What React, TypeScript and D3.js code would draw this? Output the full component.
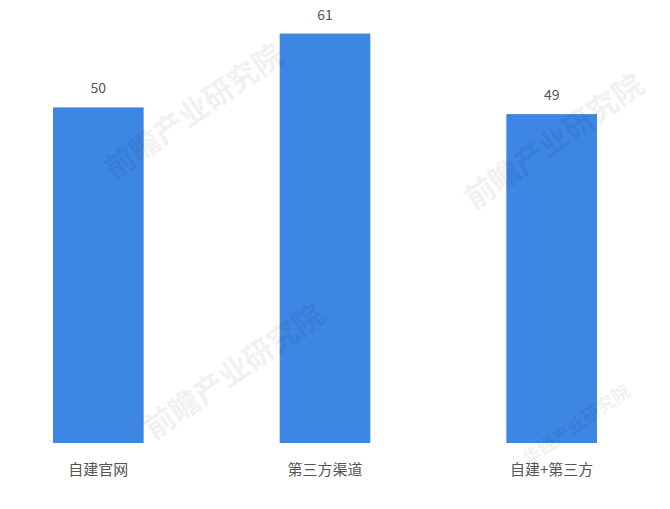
import React, { useRef, useEffect } from "react";
import * as d3 from "d3";

const categories = ["自建官网", "第三方渠道", "自建+第三方"];
const values = [50, 61, 49];

const W = 670;
const H = 509;
const barColor = "#3d86e3";
const textColor = "#555";
const font = "'Noto Sans CJK SC', 'Noto Sans', sans-serif";

const App: React.FC = () => {
  const svgRef = useRef<SVGSVGElement>(null);

  useEffect(() => {
    if (!svgRef.current) return;
    const svg = d3.select(svgRef.current);
    svg.selectAll("*").remove();

    svg.append("rect").attr("width", W).attr("height", H).attr("fill", "#fff");

    const x = d3
      .scaleBand<string>()
      .domain(categories)
      .range([-15, 665])
      .paddingInner(0.6)
      .paddingOuter(0.3);

    const y = d3.scaleLinear().domain([0, 66]).range([443, 0]);

    const g = svg.append("g");

    g.selectAll("rect.bar")
      .data(values)
      .enter()
      .append("rect")
      .attr("class", "bar")
      .attr("x", (d, i) => x(categories[i])!)
      .attr("y", (d) => y(d))
      .attr("width", x.bandwidth())
      .attr("height", (d) => y(0) - y(d))
      .attr("fill", barColor);

    // faint watermarks over the plot
    const marks = [
      { x: 200, y: 120, s: 30, t: "前瞻产业研究院" },
      { x: 560, y: 150, s: 30, t: "前瞻产业研究院" },
      { x: 240, y: 380, s: 30, t: "前瞻产业研究院" },
      { x: 580, y: 430, s: 18, t: "华经产业研究院" },
    ];
    svg
      .selectAll("text.wm")
      .data(marks)
      .enter()
      .append("text")
      .attr("class", "wm")
      .attr("transform", (d) => `translate(${d.x},${d.y}) rotate(-35)`)
      .attr("text-anchor", "middle")
      .attr("font-family", font)
      .attr("font-weight", "bold")
      .attr("font-size", (d) => d.s)
      .attr("fill", "#000")
      .attr("opacity", 0.05)
      .text((d) => d.t);

    g.selectAll("text.val")
      .data(values)
      .enter()
      .append("text")
      .attr("class", "val")
      .attr("x", (d, i) => x(categories[i])! + x.bandwidth() / 2)
      .attr("y", (d) => y(d) - 14)
      .attr("text-anchor", "middle")
      .attr("font-family", font)
      .attr("font-size", 14)
      .attr("fill", textColor)
      .text((d) => d);

    g.selectAll("text.cat")
      .data(categories)
      .enter()
      .append("text")
      .attr("class", "cat")
      .attr("x", (d) => x(d)! + x.bandwidth() / 2)
      .attr("y", 475)
      .attr("text-anchor", "middle")
      .attr("font-family", font)
      .attr("font-size", 15)
      .attr("fill", textColor)
      .text((d) => d);
  }, []);

  return (
    <svg
      ref={svgRef}
      width={W}
      height={H}
      style={{ position: "absolute", left: 0, top: 0 }}
    />
  );
};

export default App;
